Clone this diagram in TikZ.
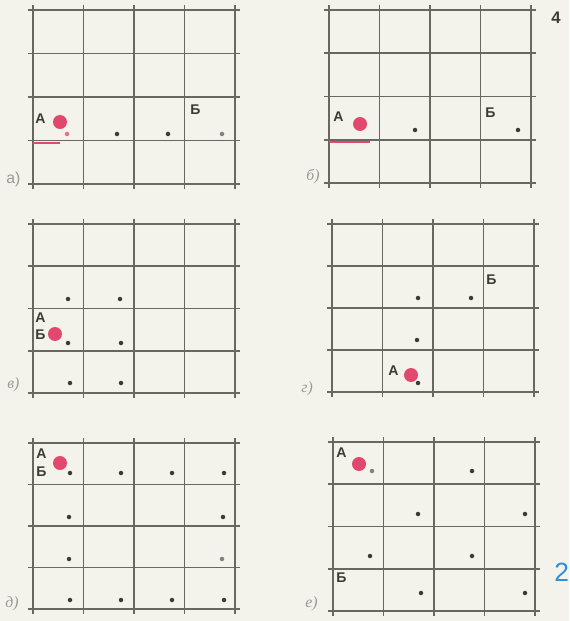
\documentclass[tikz,border=0pt]{standalone}
\usepackage{fontspec}
\setmainfont{Liberation Sans}
\newfontfamily\tagfont{Liberation Serif}
\usetikzlibrary{positioning}

\definecolor{paper}{HTML}{F4F3EB}
\definecolor{rule}{HTML}{666960}
\definecolor{ink}{HTML}{3A3B37}
\definecolor{marker}{HTML}{E2486E}
\definecolor{pageblue}{HTML}{2E8FD8}

% 4x4 grid: #1 left, #2 top, #3 row height
\newcommand\cellgrid[3]{%
  \foreach \i in {0,...,4} {
    \draw[gridline] ({#1+\i*50.5},{#2-5}) -- ({#1+\i*50.5},{#2+4*#3+5});
    \draw[gridline] ({#1-5},{#2+\i*#3}) -- ({#1+207},{#2+\i*#3});
  }}

\begin{document}
\begin{tikzpicture}[x=0.02cm, y=-0.02cm,
  gridline/.style={draw=rule, line width=1.1pt},
  spot/.style={circle, fill=ink, inner sep=0pt, minimum size=0.09cm},
  start/.style={circle, fill=marker, inner sep=0pt, minimum size=0.28cm},
  letter/.style={anchor=west, inner sep=0pt, text=ink, font=\fontsize{8}{9}\selectfont\bfseries},
  tag/.style={anchor=west, inner sep=0pt, text=gray!80, font=\tagfont\fontsize{9}{10}\selectfont\itshape}]
\fill[paper] (0,0) rectangle (569,621);
\useasboundingbox (0,0) rectangle (569,621);

\node[anchor=west, inner sep=0pt, text=ink, font=\fontsize{9.5}{10}\selectfont\bfseries] (num) at (551,18) {4};
\node[anchor=west, inner sep=0pt, text=pageblue, font=\fontsize{15}{16}\selectfont] (page) at (554,572) {2};

% a)
\cellgrid{33}{10}{43.5}
\draw[marker, line width=1.1pt] (33,143) -- (60,143);
\node[start] (aA) at (60,122) {};
\node[spot, fill=marker!80] (a1) at (67,134) {};
\node[spot] (a2) at (117,134) {};
\node[spot] (a3) at (168,134) {};
\node[spot, fill=gray] (a4) at (222,134) {};
\node[letter] (aLA) at (35,119) {А};
\node[letter] (aLB) at (190,110) {Б};
\node[tag, font=\fontsize{9}{10}\selectfont] (aT) at (6,179) {а)};

% б)
\cellgrid{329}{10}{43.25}
\draw[marker, line width=1.1pt] (329,142) -- (370,142);
\node[start] (bA) at (360,124) {};
\node[spot] (b1) at (415,130) {};
\node[spot] (b2) at (518,130) {};
\node[letter] (bLA) at (333,117) {А};
\node[letter] (bLB) at (485,113) {Б};
\node[tag] (bT) at (306,177) {б)};

% в)
\cellgrid{33}{224}{42.25}
\node[start] (cA) at (55,334) {};
\node[spot] (c1) at (68,299) {};
\node[spot] (c2) at (120,299) {};
\node[spot] (c3) at (68,343) {};
\node[spot] (c4) at (121,343) {};
\node[spot] (c5) at (70,383) {};
\node[spot] (c6) at (121,383) {};
\node[letter] (cLA) at (35,318) {А};
\node[letter] (cLB) at (35,335) {Б};
\node[tag] (cT) at (7,385) {в)};

% г)
\cellgrid{332}{224}{42}
\node[start] (dA) at (411,375) {};
\node[spot] (d1) at (418,298) {};
\node[spot] (d2) at (471,298) {};
\node[spot] (d3) at (417,340) {};
\node[spot] (d4) at (418,383) {};
\node[letter] (dLA) at (388,371) {А};
\node[letter] (dLB) at (486,280) {Б};
\node[tag] (dT) at (301,389) {г)};

% д)
\cellgrid{33}{443}{41.5}
\node[start] (eA) at (60,463) {};
\foreach \x [count=\k] in {70,121,172,224} {
  \node[spot] (e1\k) at (\x,473) {};
  \node[spot] (e4\k) at (\x,600) {};
}
\node[spot] (e21) at (69,517) {};
\node[spot] (e24) at (223,517) {};
\node[spot] (e31) at (69,559) {};
\node[spot, fill=gray] (e34) at (222,559) {};
\node[letter] (eLA) at (36,454) {А};
\node[letter] (eLB) at (36,472) {Б};
\node[tag] (eT) at (5,604) {д)};

% е)
\cellgrid{333}{442}{42.25}
\node[start] (fA) at (359,464) {};
\node[spot, fill=gray] (f1) at (372,471) {};
\node[spot] (f2) at (472,471) {};
\node[spot] (f3) at (418,514) {};
\node[spot] (f4) at (525,514) {};
\node[spot] (f5) at (370,556) {};
\node[spot] (f6) at (472,556) {};
\node[spot] (f7) at (421,593) {};
\node[spot] (f8) at (525,593) {};
\node[letter] (fLA) at (336,453) {А};
\node[letter] (fLB) at (336,578) {Б};
\node[tag] (fT) at (305,604) {е)};
\end{tikzpicture}
\end{document}
